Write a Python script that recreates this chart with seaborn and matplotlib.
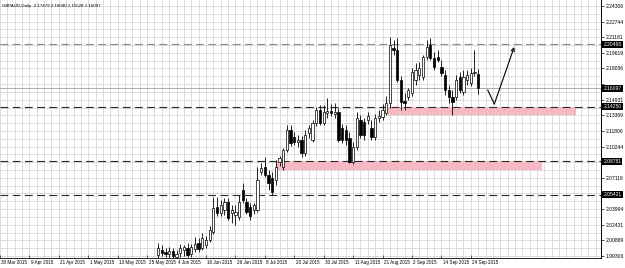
import matplotlib
matplotlib.use("Agg")
import matplotlib.pyplot as plt
import matplotlib.transforms as mtransforms
from matplotlib.patches import Rectangle
import numpy as np
import pandas as pd
import seaborn as sns

# ---------------- data ----------------
title_text = "GBPAUD,Daily  2.17479 2.18040 2.15528 2.16097"

# bar index 0 = 30 Mar 2015 (one bar per trading day)
bar_index = list(range(43, 131))
opens = [1.994, 1.999, 1.997, 1.995, 1.998, 1.992, 1.996, 1.999, 2.001, 1.995,
         2.000, 2.006, 2.001, 2.004, 2.009, 2.017, 2.042, 2.036, 2.039, 2.047,
         2.036, 2.034, 2.032, 2.059, 2.047, 2.042, 2.039, 2.039, 2.077, 2.082,
         2.074, 2.071, 2.069, 2.087, 2.082, 2.099, 2.119, 2.112, 2.107, 2.109,
         2.096, 2.116, 2.109, 2.126, 2.139, 2.126, 2.136, 2.138, 2.135, 2.137,
         2.121, 2.119, 2.111, 2.087, 2.102, 2.129, 2.127, 2.129, 2.121, 2.112,
         2.131, 2.132, 2.136, 2.146, 2.201, 2.199, 2.169, 2.148, 2.152, 2.156,
         2.169, 2.174, 2.172, 2.192, 2.204, 2.191, 2.192, 2.182, 2.174, 2.159,
         2.152, 2.152, 2.172, 2.157, 2.169, 2.166, 2.176, 2.17479]
highs = [2.006, 2.004, 2.001, 2.002, 2.001, 1.999, 2.005, 2.004, 2.006, 2.005,
         2.012, 2.011, 2.016, 2.013, 2.023, 2.052, 2.052, 2.049, 2.051, 2.051,
         2.044, 2.044, 2.054, 2.066, 2.051, 2.046, 2.046, 2.082, 2.086, 2.092,
         2.079, 2.077, 2.089, 2.093, 2.101, 2.124, 2.124, 2.117, 2.114, 2.113,
         2.119, 2.124, 2.129, 2.142, 2.144, 2.144, 2.151, 2.145, 2.146, 2.141,
         2.125, 2.124, 2.117, 2.107, 2.137, 2.134, 2.131, 2.137, 2.129, 2.135,
         2.139, 2.145, 2.153, 2.212, 2.209, 2.211, 2.173, 2.156, 2.161, 2.181,
         2.186, 2.187, 2.194, 2.209, 2.211, 2.197, 2.199, 2.189, 2.179, 2.164,
         2.159, 2.174, 2.177, 2.179, 2.179, 2.181, 2.199, 2.18040]
lows = [1.991, 1.993, 1.992, 1.991, 1.991, 1.987, 1.992, 1.993, 1.992, 1.992,
        1.997, 1.997, 1.999, 2.001, 2.007, 2.015, 2.033, 2.033, 2.034, 2.029,
        2.026, 2.024, 2.029, 2.046, 2.035, 2.029, 2.035, 2.037, 2.074, 2.072,
        2.059, 2.054, 2.064, 2.083, 2.079, 2.097, 2.103, 2.104, 2.102, 2.092,
        2.093, 2.111, 2.107, 2.123, 2.124, 2.124, 2.131, 2.133, 2.131, 2.107,
        2.106, 2.104, 2.086, 2.085, 2.099, 2.111, 2.109, 2.125, 2.109, 2.109,
        2.127, 2.129, 2.134, 2.141, 2.194, 2.167, 2.139, 2.139, 2.149, 2.153,
        2.164, 2.169, 2.169, 2.189, 2.189, 2.179, 2.187, 2.173, 2.154, 2.146,
        2.134, 2.149, 2.156, 2.154, 2.164, 2.163, 2.173, 2.15528]
closes = [2.001, 1.996, 1.995, 1.998, 1.993, 1.995, 2.001, 2.002, 1.994, 2.002,
          2.005, 2.000, 2.011, 2.009, 2.019, 2.041, 2.036, 2.044, 2.047, 2.031,
          2.039, 2.037, 2.047, 2.049, 2.037, 2.033, 2.044, 2.069, 2.081, 2.074,
          2.066, 2.057, 2.082, 2.091, 2.099, 2.119, 2.106, 2.107, 2.109, 2.096,
          2.114, 2.121, 2.126, 2.139, 2.126, 2.137, 2.138, 2.136, 2.137, 2.109,
          2.109, 2.109, 2.087, 2.102, 2.131, 2.114, 2.114, 2.133, 2.112, 2.131,
          2.133, 2.139, 2.146, 2.204, 2.199, 2.169, 2.147, 2.146, 2.159, 2.177,
          2.179, 2.181, 2.192, 2.202, 2.191, 2.182, 2.189, 2.176, 2.159, 2.152,
          2.147, 2.169, 2.159, 2.172, 2.174, 2.176, 2.177, 2.16097]

date_tick_index = [0, 8, 16, 24, 32, 40, 48, 56, 64, 72, 80, 88, 96, 104, 112, 120, 128]
date_labels = ["30 Mar 2015", "9 Apr 2015", "21 Apr 2015", "1 May 2015", "13 May 2015",
               "25 May 2015", "4 Jun 2015", "16 Jun 2015", "26 Jun 2015", "8 Jul 2015",
               "20 Jul 2015", "30 Jul 2015", "11 Aug 2015", "21 Aug 2015", "2 Sep 2015",
               "14 Sep 2015", "24 Sep 2015"]

price_ticks = [1.99306, 2.00869, 2.02431, 2.03994, 2.05556, 2.07119, 2.08681, 2.10244,
               2.11806, 2.13369, 2.14931, 2.16494, 2.18056, 2.19619, 2.21181, 2.22744, 2.24306]
price_tick_labels = ["1.99306", "2.00869", "2.02431", "2.03994", "", "2.07119", "", "2.10244",
                     "2.11806", "2.13369", "2.14931", "", "2.18056", "2.19619", "2.21181",
                     "2.22744", "2.24306"]

level_values = [2.20490, 2.14250, 2.08781, 2.05421]
level_labels = ["2.20490", "2.14250", "2.08781", "2.05421"]
current_price = 2.16097
current_label = "2.16097"

zone_start = [105.4, 75.1]
zone_end = [156.5, 147.3]
zone_low = [2.1345, 2.0795]
zone_high = [2.1425, 2.0878]

arrow_x = [132.6, 134.4, 139.8]
arrow_y = [2.159, 2.145, 2.202]

# ---------------- style ----------------
sns.set_theme(style="white")
plt.rcParams["font.family"] = ["Liberation Sans", "DejaVu Sans"]

df = pd.DataFrame({"i": bar_index, "open": opens, "high": highs,
                   "low": lows, "close": closes})
df["bull"] = df["close"] >= df["open"]
df["bottom"] = df[["open", "close"]].min(axis=1)
df["height"] = (df["close"] - df["open"]).abs().clip(lower=0.0006)

fig = plt.figure(figsize=(6.25, 2.68), dpi=100)
ax = fig.add_axes([0, 10 / 268, 601 / 625, 258 / 268])
ax.set_facecolor("white")

# grid
for g in np.arange(0, 170, 2):
    ax.axvline(g, color="#cfcfcf", lw=0.5, zorder=0)
for g in np.arange(price_ticks[0] - 0.0078125 * 2, 2.26, 0.0078125):
    ax.axhline(g, color="#cfcfcf", lw=0.5, zorder=0)

# zones
for xs, xe, lo, hi in zip(zone_start, zone_end, zone_low, zone_high):
    ax.add_patch(Rectangle((xs, lo), xe - xs, hi - lo, facecolor="#f6b9c4",
                           edgecolor="none", zorder=1))

# levels
ax.axhline(level_values[0], color="#8a8a8a", lw=0.8, ls=(0, (7, 4)), zorder=2)
for v in level_values[1:]:
    ax.axhline(v, color="#2a2a2a", lw=0.8, ls=(0, (7, 4)), zorder=2)
ax.axhline(current_price, color="#a0a0a0", lw=0.6, zorder=2)

# candles
ax.vlines(df["i"], df["low"], df["high"], color="black", lw=0.6, zorder=3)
colors = np.where(df["bull"], "white", "black")
ax.bar(df["i"], df["height"], bottom=df["bottom"], width=0.62, color=colors,
       edgecolor="black", linewidth=0.5, zorder=4)

# arrow
ax.plot(arrow_x[:2], arrow_y[:2], color="black", lw=0.8, zorder=5)
ax.annotate("", xy=(arrow_x[2], arrow_y[2]), xytext=(arrow_x[1], arrow_y[1]),
            arrowprops=dict(arrowstyle="->", color="black", lw=0.8,
                            mutation_scale=6, shrinkA=0, shrinkB=0), zorder=5)

ax.set_xlim(2.09, 163.4)
ax.set_ylim(1.991, 2.249)

# axes
for s in ["top", "left"]:
    ax.spines[s].set_visible(False)
ax.spines["right"].set_color("black")
ax.spines["right"].set_linewidth(0.7)
ax.spines["bottom"].set_color("black")
ax.spines["bottom"].set_linewidth(0.6)
ax.yaxis.tick_right()
ax.set_yticks(price_ticks)
ax.set_yticklabels(price_tick_labels)
ax.tick_params(axis="y", which="both", right=True, left=False, length=2, width=0.5,
               pad=1.5, labelsize=3.6, colors="black")
ax.set_xticks(date_tick_index)
ax.set_xticklabels([])
ax.tick_params(axis="x", bottom=True, length=2, width=0.5, direction="in")

trans_x = mtransforms.blended_transform_factory(ax.transData, ax.transAxes)
for idx, lab in zip(date_tick_index, date_labels):
    ax.text(idx + 0.4, -0.008, lab, transform=trans_x, ha="left", va="top",
            fontsize=3.3, color="black", clip_on=False)

trans_y = mtransforms.blended_transform_factory(ax.transAxes, ax.transData)
for v, lab in zip(level_values + [current_price], level_labels + [current_label]):
    ax.text(1.004, v, lab, transform=trans_y, ha="left", va="center", fontsize=3.6,
            color="white", clip_on=False,
            bbox=dict(boxstyle="square,pad=0.2", fc="black", ec="none"))

ax.text(0.004, 0.985, title_text, transform=ax.transAxes, ha="left", va="top",
        fontsize=3.2, color="black")

fig.savefig("out.png", dpi=100, facecolor="white")
